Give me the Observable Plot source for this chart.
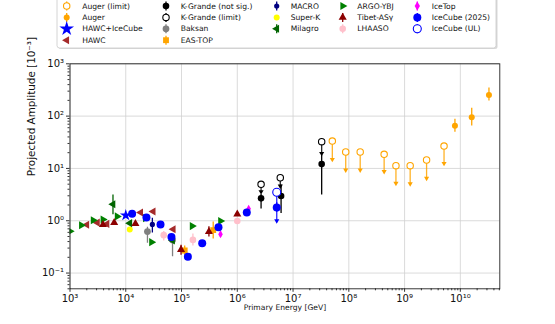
<!DOCTYPE html>
<html><head><meta charset="utf-8">
<script src="https://cdn.jsdelivr.net/npm/d3@7"></script>
<script src="https://cdn.jsdelivr.net/npm/@observablehq/plot@0.6"></script>
<style>
body{margin:0;background:#fff;font-family:"DejaVu Sans",sans-serif;}
#wrap{position:relative;width:555px;height:324px;overflow:hidden;}
#wrap svg{position:absolute;left:0;top:0;}
</style></head><body>
<div id="wrap"></div>
<script>
// ---- data (energy in GeV, amplitude in 1e-3) ----
const augerLimit = [
  {e:5.06e7,a:33.4,lo:14.9},{e:8.8e7,a:20.6,lo:9.3},{e:1.6e8,a:20.6,lo:9.3},{e:4.3e8,a:18.6,lo:8.7},
  {e:7.0e8,a:11.3,lo:5.2},{e:1.26e9,a:11.3,lo:5.1},{e:2.48e9,a:14.5,lo:6.5},{e:5.1e9,a:26.8,lo:12.5}];
const auger = [{e:8.0e9,a:65.5,lo:49,hi:87},{e:1.6e10,a:95,lo:65,hi:141},{e:3.26e10,a:253,lo:194,hi:343}];
const hawcIceCube = [{e:1.0e4,a:1.27}];
const hawc = [{e:2.0e3,a:0.84},{e:3.1e3,a:0.92},{e:4.6e3,a:0.87},{e:1.85e4,a:1.44},{e:3.1e4,a:1.5},{e:7.1e4,a:0.69}];
const kgNotSig = [{e:2.67e6,a:2.68,lo:1.67,hi:3.2},{e:6.1e6,a:2.97,lo:1.38,hi:4.8},{e:3.26e7,a:12.1,lo:3.1,hi:18}];
const kgLimit = [{e:2.67e6,a:4.97,lo:3.6},{e:5.9e6,a:6.64,lo:4.6},{e:3.26e7,a:32.4,lo:19.4}];
const baksan = [{e:2.45e4,a:0.62,lo:0.37,hi:0.75},{e:6.9e4,a:0.43,lo:0.205,hi:0.52}];
const easTop = [{e:1.14e5,a:0.27,lo:0.22,hi:0.33},{e:3.7e5,a:0.66,lo:0.45,hi:0.95}];
const macro = [{e:3.0e4,a:0.85,lo:0.58,hi:1.11}];
const superK = [{e:1.18e4,a:0.68}];
const milagro = [{e:5.9e3,a:2.06,lo:1.3,hi:3.1},{e:1.18e4,a:0.9},{e:6.9e4,a:0.42}];
const argo = [{e:1.0e3,a:0.63},{e:1.6e3,a:0.82},{e:2.6e3,a:1.02},{e:3.9e3,a:1.06},{e:7.0e3,a:1.21},
  {e:2.25e4,a:1.12},{e:2.9e4,a:0.39},{e:1.55e5,a:0.79},{e:5.0e5,a:0.99}];
const tibet = [{e:3.9e3,a:0.84},{e:6.2e3,a:0.92},{e:1.49e4,a:0.88},{e:9.8e4,a:0.28,lo:0.22,hi:0.34},
  {e:3.1e5,a:0.62,lo:0.49,hi:0.77},{e:1.0e6,a:1.33}];
const lhaaso = [{e:4.8e4,a:0.53,lo:0.41,hi:0.62},{e:1.6e5,a:0.43,lo:0.33,hi:0.56},{e:1.0e6,a:0.99}];
const iceTop = [{e:5.0e5,a:0.55,lo:0.48,hi:0.62},{e:1.6e6,a:1.7}];
const iceCube = [{e:1.3e4,a:1.36},{e:2.35e4,a:1.15},{e:4.2e4,a:0.85},{e:6.6e4,a:0.49},{e:1.3e5,a:0.205},
  {e:2.35e5,a:0.37},{e:4.6e5,a:0.75},{e:1.48e6,a:1.43},{e:5.1e6,a:1.8,lo:1.45,hi:2.2}];
const iceCubeUL = [{e:5.1e6,a:3.5,lo:1.0}];

const xTicks = [1e3,1e4,1e5,1e6,1e7,1e8,1e9,1e10];
const yTicks = [1e-1,1e0,1e1,1e2,1e3];
const xLabel = "Primary Energy [GeV]";
const yLabel = "Projected Amplitude [10⁻³]";

// ---- series styling ----
const series = [
  {name:"Auger (limit)", data:augerLimit, color:"#FFA500", symbol:"circle", r:3.2, hollow:true, limit:true, col:0,row:0},
  {name:"Auger", data:auger, color:"#FFA500", symbol:"circle", r:3, col:0,row:1},
  {name:"HAWC+IceCube", data:hawcIceCube, color:"#0000FF", symbol:"star", r:3.7, lr:4.6, col:0,row:2},
  {name:"HAWC", data:hawc, color:"#A52A2A", symbol:"triangle", rotate:-90, r:3, col:0,row:3},
  {name:"K-Grande (not sig.)", data:kgNotSig, color:"#000000", symbol:"circle", r:3.3, col:1,row:0},
  {name:"K-Grande (limit)", data:kgLimit, color:"#000000", symbol:"circle", r:3.2, hollow:true, limit:true, col:1,row:1},
  {name:"Baksan", data:baksan, color:"#808080", symbol:"circle", r:3.4, col:1,row:2},
  {name:"EAS-TOP", data:easTop, color:"#FFA500", symbol:"square", r:3.3, col:1,row:3},
  {name:"MACRO", data:macro, color:"#000080", symbol:"circle", r:2.6, col:2,row:0},
  {name:"Super-K", data:superK, color:"#FFFF00", symbol:"circle", r:3, col:2,row:1},
  {name:"Milagro", data:milagro, color:"#006400", symbol:"triangle", rotate:-90, r:3, col:2,row:2},
  {name:"ARGO-YBJ", data:argo, color:"#008000", symbol:"triangle", rotate:90, r:3, col:3,row:0},
  {name:"Tibet-ASγ", data:tibet, color:"#8B0000", symbol:"triangle", r:3, col:3,row:1},
  {name:"LHAASO", data:lhaaso, color:"#FFC0CB", symbol:"circle", r:3.3, col:3,row:2},
  {name:"IceTop", data:iceTop, color:"#FF00FF", symbol:"diamond", r:2.4, lr:2.8, col:4,row:0},
  {name:"IceCube (2025)", data:iceCube, color:"#0000FF", symbol:"circle", r:4, col:4,row:1},
  {name:"IceCube (UL)", data:iceCubeUL, color:"#0000FF", symbol:"circle", r:4, hollow:true, limit:true, col:4,row:2}
];

const supMap = {"-":"⁻","0":"⁰","1":"¹","2":"²","3":"³","4":"⁴","5":"⁵","6":"⁶","7":"⁷","8":"⁸","9":"⁹"};
const fmt = v => "10" + String(Math.round(Math.log10(v))).split("").map(c => supMap[c]).join("");

const xDomain = [1e3, 5.1e10], yDomain = [0.05, 1000];
const minor = (lo, hi) => { const out=[]; for (let k=Math.floor(Math.log10(lo)); k<=Math.ceil(Math.log10(hi)); k++) for (let m=2;m<=9;m++){const v=m*Math.pow(10,k); if(v>=lo&&v<=hi) out.push(v);} return out; };

const marks = [
  Plot.gridX(xTicks, {stroke:"#d0d0d0", strokeOpacity:1, strokeWidth:0.8}),
  Plot.gridY(yTicks, {stroke:"#d0d0d0", strokeOpacity:1, strokeWidth:0.8}),
];
for (const s of series) {
  const errs = s.data.filter(d => d.hi != null);
  if (errs.length) marks.push(Plot.ruleX(errs, {x:"e", y1:"lo", y2:"hi", stroke:s.color, strokeWidth:1.3, clip:true}));
  if (s.limit) {
    marks.push(Plot.ruleX(s.data, {x:"e", y1:"a", y2:"lo", stroke:s.color, strokeWidth:1.3, strokeOpacity:0.85, clip:true}));
    marks.push(Plot.dot(s.data, {x:"e", y:"lo", symbol:"triangle", rotate:180, r:1.9, fill:s.color, clip:true}));
  }
  const opts = {x:"e", y:"a", symbol:s.symbol, r:s.r, clip:true};
  if (s.rotate) opts.rotate = s.rotate;
  if (s.hollow) { opts.fill = "white"; opts.stroke = s.color; opts.strokeWidth = 1.1; }
  else { opts.fill = s.color; opts.stroke = "none"; }
  marks.push(Plot.dot(s.data, opts));
}
marks.push(
  Plot.axisX(minor(xDomain[0], xDomain[1]), {tickSize:2, tickFormat:() => "", label:null, stroke:"#333"}),
  Plot.axisY(minor(yDomain[0], yDomain[1]), {tickSize:2, tickFormat:() => "", label:null, stroke:"#333"}),
  Plot.axisX(xTicks, {tickSize:3.5, tickPadding:2.5, tickFormat:fmt, fontSize:10, label:null, stroke:"#333", fill:"#111"}),
  Plot.axisY(yTicks, {tickSize:3.5, tickPadding:2.5, tickFormat:fmt, fontSize:10, label:null, stroke:"#333", fill:"#111"}),
  Plot.frame({stroke:"#222", strokeWidth:0.9}),
  Plot.text([xLabel], {text:d => d, frameAnchor:"bottom", dy:21, fontSize:7.6, fill:"#111"}),
  Plot.text([yLabel], {text:d => d, frameAnchor:"left", dx:-38, rotate:-90, fontSize:10.4, fill:"#111"})
);

const chart = Plot.plot({
  width:555, height:324,
  marginLeft:69.5, marginRight:55.7, marginTop:63.3, marginBottom:35.7,
  style:{fontFamily:"DejaVu Sans", background:"transparent", overflow:"visible"},
  x:{type:"log", domain:xDomain, axis:null},
  y:{type:"log", domain:yDomain, axis:null},
  marks
});
document.getElementById("wrap").appendChild(chart);

// ---- legend ----
const colX = [9.7, 109, 219.7, 285.7, 360.3];
const txtX = [25.3, 123.7, 233.7, 300.3, 374.7];
const rowY = [6, 17.4, 28.8, 40.2];
const symMap = {circle:d3.symbolCircle, triangle:d3.symbolTriangle, star:d3.symbolStar, square:d3.symbolSquare, diamond:d3.symbolDiamond};
const lg = d3.select("#wrap").append("svg").attr("width",555).attr("height",56);
const g = lg.append("g").attr("transform","translate(57,0)");
g.append("rect").attr("x",1.5).attr("y",-4).attr("width",439).attr("height",53).attr("rx",2.5).attr("fill","#c8c8c8").attr("opacity",0.7);
g.append("rect").attr("x",0).attr("y",-5.5).attr("width",439).attr("height",53.5).attr("rx",2.5).attr("fill","#fff").attr("stroke","#cfcfcf").attr("stroke-width",0.9);
for (const s of series) {
  const cx = colX[s.col], cy = rowY[s.row];
  const hasErr = s.data.some(d => d.hi != null) || s.limit;
  if (hasErr) g.append("line").attr("x1",cx).attr("x2",cx).attr("y1",cy-4.5).attr("y2",cy+4.5).attr("stroke",s.color).attr("stroke-width",1.3);
  const lr = s.lr || s.r;
  const p = g.append("path").attr("d", d3.symbol(symMap[s.symbol], Math.PI*lr*lr)())
    .attr("transform", `translate(${cx},${cy}) rotate(${s.rotate||0})`);
  if (s.hollow) p.attr("fill","white").attr("stroke",s.color).attr("stroke-width",1.1);
  else p.attr("fill",s.color);
  g.append("text").attr("x",txtX[s.col]).attr("y",cy).attr("dy","0.35em")
    .attr("font-size",7.6).attr("font-family","DejaVu Sans").attr("fill","#111").text(s.name);
}
</script>
</body></html>
